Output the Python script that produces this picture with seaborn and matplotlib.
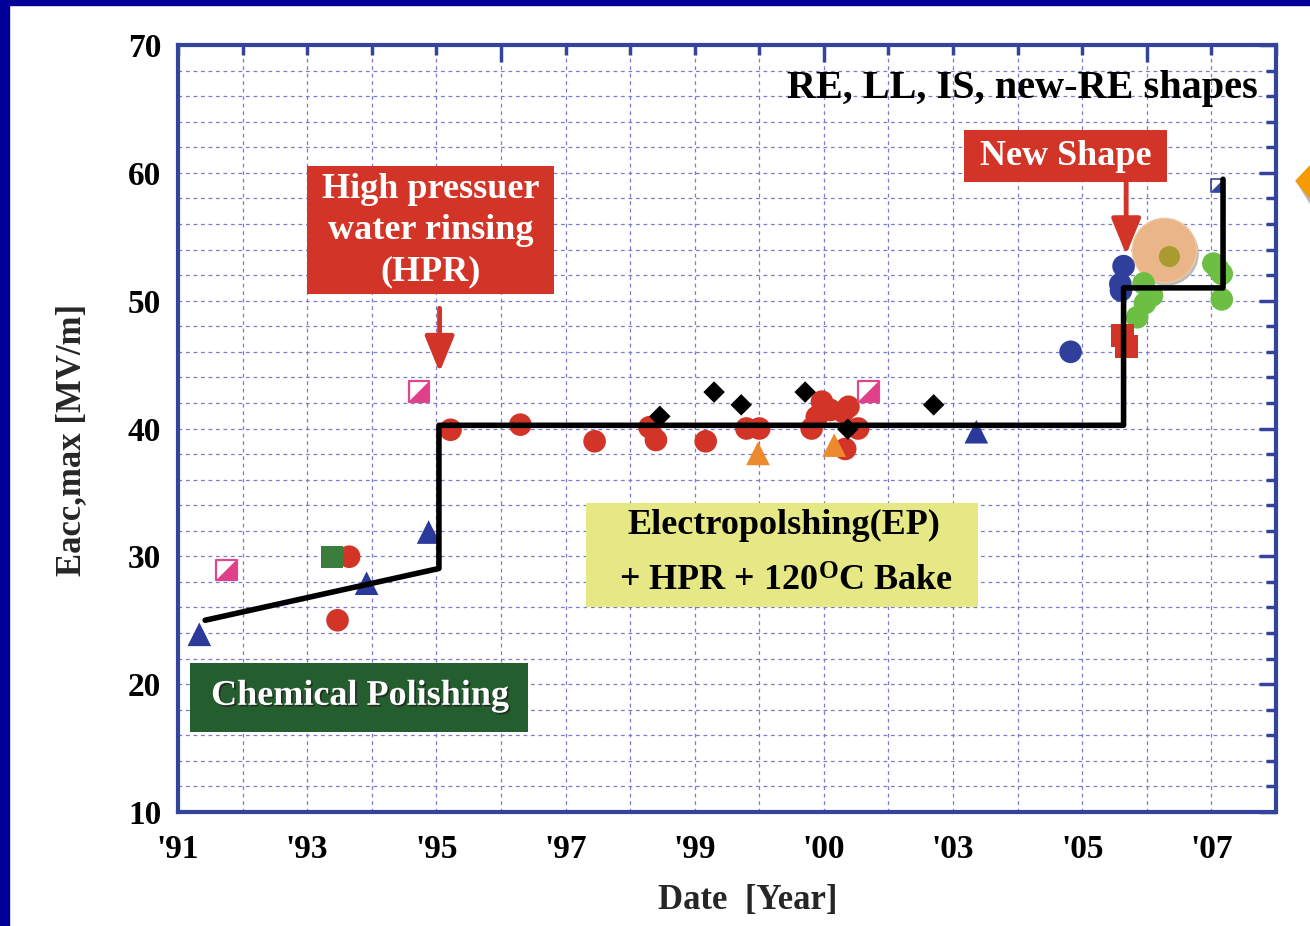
import numpy as np
import pandas as pd
import matplotlib
matplotlib.use("Agg")
import matplotlib.pyplot as plt
import matplotlib.patheffects as pe
import seaborn as sns
from matplotlib.patches import Rectangle, Polygon
from matplotlib.transforms import offset_copy
from matplotlib.ticker import MultipleLocator

# ---------------- data ----------------
tick_years = list(range(1991, 2009))
tick_labels = ["'91", "", "'93", "", "'95", "", "'97", "", "'99", "", "'00", "",
               "'03", "", "'05", "", "'07", ""]

red_circ_x = [1993.47, 1993.65, 1995.22, 1996.30, 1997.45, 1998.30, 1998.40, 1999.17,
              1999.80, 2000.00, 2000.81, 2000.89, 2000.97, 2001.10, 2001.30, 2001.38,
              2001.53, 2001.33]
red_circ_y = [25.0, 29.97, 39.9, 40.3, 39.0, 40.1, 39.1, 39.0,
              40.0, 40.0, 40.0, 40.9, 42.1, 41.45, 41.3, 41.7,
              40.0, 38.4]

diam_x = [1998.46, 1999.30, 1999.72, 2000.71, 2001.37, 2002.70]
diam_y = [40.95, 42.85, 41.85, 42.85, 39.95, 41.85]

orange_tri_x = [1999.98, 2001.16]
orange_tri_y = [38.05, 38.7]

blue_tri_x = [1991.33, 1993.92, 1994.88, 2003.36]
blue_tri_y = [23.9, 27.9, 31.9, 39.75]

pink_sq_x = [1991.75, 1994.73, 2001.69]
pink_sq_y = [28.94, 42.9, 42.9]

blue_sq_x = [2007.09]
blue_sq_y = [59.0]

green_sq_x = [1993.39]
green_sq_y = [29.95]

red_sq_x = [2005.62, 2005.68]
red_sq_y = [47.3, 46.4]

blue_circ_x = [2004.82, 2005.64, 2005.59, 2005.60]
blue_circ_y = [46.0, 52.7, 51.3, 50.8]

green_circ_x = [2005.85, 2005.97, 2005.95, 2006.08, 2007.03, 2007.16, 2007.10, 2007.16]
green_circ_y = [48.7, 49.8, 51.35, 50.4, 52.9, 52.1, 52.5, 50.1]

hl_x = [2006.26]
hl_y = [54.0]
olive_x = [2006.35]
olive_y = [53.45]

step_x = [1991.42, 1995.04, 1995.04, 2005.64, 2005.64, 2007.18, 2007.18]
step_y = [25.0, 29.05, 40.25, 40.25, 51.0, 51.0, 59.5]

# ---------------- style ----------------
sns.set_style("white")
plt.rcParams["font.family"] = ["Liberation Serif", "DejaVu Serif"]
plt.rcParams["font.weight"] = "bold"
plt.rcParams["mathtext.fontset"] = "custom"
plt.rcParams["mathtext.rm"] = "Liberation Serif:bold"
plt.rcParams["mathtext.bf"] = "Liberation Serif:bold"
plt.rcParams["mathtext.it"] = "Liberation Serif:bold"

SPINE = "#34449C"
GRID = "#7A7AD0"
RED = "#D23527"

fig = plt.figure(figsize=(13.10, 9.26), dpi=100)
fig.patch.set_facecolor("white")
ax = fig.add_axes([178 / 1310, 1 - 812 / 926, 1098 / 1310, 767 / 926])
ax.set_facecolor("white")

# frame of the slide
fig.add_artist(Rectangle((0, 0), 9 / 1310, 1, transform=fig.transFigure, color="#000099", zorder=0))
fig.add_artist(Rectangle((0, 1 - 5 / 926), 1, 5 / 926, transform=fig.transFigure, color="#000099", zorder=0))
def fpt(x, y):
    return (x / 1310, 1 - y / 926)
fig.add_artist(Polygon([fpt(1299, 185), fpt(1310, 171), fpt(1310, 203)], closed=True,
                       transform=fig.transFigure, color="#BBBBBB", zorder=0))
fig.add_artist(Polygon([fpt(1296, 181), fpt(1310, 166), fpt(1310, 198)], closed=True,
                       transform=fig.transFigure, color="#F59A00", zorder=1))

ax.set_xlim(1991, 2008)
ax.set_ylim(10, 70)

# grid
ax.set_xticks(tick_years)
ax.set_xticklabels(tick_labels)
ax.set_yticks([10, 20, 30, 40, 50, 60, 70])
ax.yaxis.set_minor_locator(MultipleLocator(2))
ax.grid(True, which="both", color=GRID, lw=0.9, ls=(0, (3, 3)), zorder=0)
ax.set_axisbelow(True)

for s in ax.spines.values():
    s.set_color(SPINE)
    s.set_linewidth(3)

ax.tick_params(axis="both", which="both", direction="in", colors=SPINE, width=2.5,
               top=True, right=True, labelcolor="black")
ax.tick_params(axis="y", which="major", length=12, pad=12, labelsize=24)
ax.tick_params(axis="y", which="minor", length=7)
ax.tick_params(axis="x", which="major", length=7, pad=16, labelsize=24)
for yr, t in zip(tick_years, ax.xaxis.get_major_ticks()):
    if yr in (1996, 2001, 2006):
        t.tick1line.set_markersize(12)
        t.tick2line.set_markersize(12)
for lab in ax.get_xticklabels() + ax.get_yticklabels():
    lab.set_fontweight("bold")

# text boxes (behind markers)
def box(x0, x1, y0, y1, color, z=1):
    ax.add_patch(Rectangle((x0, y0), x1 - x0, y1 - y0, facecolor=color, edgecolor="none", zorder=z))

box(1993.00, 1996.82, 50.53, 60.55, RED)
ax.text(1994.91, 55.45, "High pressuer\nwater rinsing\n(HPR)", color="white", fontsize=26,
        fontweight="bold", ha="center", va="center", linespacing=1.32, zorder=2)

box(2003.17, 2006.32, 59.30, 63.36, RED)
ax.text(2004.74, 61.3, "New Shape", color="white", fontsize=26, fontweight="bold",
        ha="center", va="center", zorder=2)

box(1997.32, 2003.39, 26.04, 34.18, "#E5E884")
ax.text(2000.38, 32.4, "Electropolshing(EP)", color="black", fontsize=26, fontweight="bold",
        ha="center", va="center", zorder=2)
ax.text(2000.42, 28.0, r"+ HPR + 120$^{\mathrm{O}}$C Bake", color="black", fontsize=26,
        fontweight="bold", ha="center", va="center", zorder=2)

box(1991.185, 1996.42, 16.26, 21.66, "#245E2E")
ax.text(1993.82, 19.05, "Chemical Polishing", color="white", fontsize=26, fontweight="bold",
        ha="center", va="center", zorder=2,
        path_effects=[pe.withSimplePatchShadow(offset=(1.2, -1.2), shadow_rgbFace="#222222", alpha=0.8)])

ax.text(2007.72, 66.6, "RE, LL, IS, new-RE shapes", color="black", fontsize=29,
        fontweight="bold", ha="right", va="center", zorder=2)

# arrows
ax.annotate("", xy=(1995.05, 44.4), xytext=(1995.05, 49.4),
            arrowprops=dict(arrowstyle="-|>,head_length=1.1,head_width=0.45", color=RED, lw=3.5,
                            shrinkA=0, shrinkB=0, mutation_scale=20), zorder=3)
ax.annotate("", xy=(2005.68, 53.6), xytext=(2005.68, 59.3),
            arrowprops=dict(arrowstyle="-|>,head_length=1.1,head_width=0.45", color=RED, lw=3.5,
                            shrinkA=0, shrinkB=0, mutation_scale=20), zorder=3)

# highlighted circle with shadow
sns.scatterplot(x=hl_x, y=hl_y, ax=ax, s=2150, color="#BBBBBB", edgecolor="none", zorder=3,
                legend=False, transform=offset_copy(ax.transData, fig=fig, x=3, y=-4, units="dots"))
sns.scatterplot(x=hl_x, y=hl_y, ax=ax, s=2150, color="#E9B589", edgecolor="#F0C8A0", linewidth=1,
                zorder=3, legend=False)

# step line
sns.lineplot(x=step_x, y=step_y, ax=ax, sort=False, estimator=None, color="black", lw=4,
             zorder=5, legend=False)

# markers
CS = 265
sns.scatterplot(x=red_circ_x, y=red_circ_y, ax=ax, s=CS, marker="o", color=RED,
                edgecolor="none", zorder=4, legend=False)
sns.scatterplot(x=blue_circ_x, y=blue_circ_y, ax=ax, s=CS, marker="o", color="#2F3F9B",
                edgecolor="none", zorder=4, legend=False)
sns.scatterplot(x=green_circ_x, y=green_circ_y, ax=ax, s=CS, marker="o", color="#6CBF42",
                edgecolor="none", zorder=4, legend=False)
sns.scatterplot(x=olive_x, y=olive_y, ax=ax, s=230, marker="o", color="#A89B30",
                edgecolor="none", zorder=4, legend=False)
sns.scatterplot(x=red_sq_x, y=red_sq_y, ax=ax, s=280, marker="s", color=RED,
                edgecolor="none", zorder=4, legend=False)
sns.scatterplot(x=green_sq_x, y=green_sq_y, ax=ax, s=250, marker="s", color="#3A7D3C",
                edgecolor="none", zorder=4, legend=False)
sns.scatterplot(x=diam_x, y=diam_y, ax=ax, s=120, marker="D", color="black",
                edgecolor="none", zorder=6, legend=False)
sns.scatterplot(x=blue_tri_x, y=blue_tri_y, ax=ax, s=290, marker="^", color="#2B3A9A",
                edgecolor="none", zorder=4, legend=False)
sns.scatterplot(x=orange_tri_x, y=orange_tri_y, ax=ax, s=290, marker="^", color="#EE8A2E",
                edgecolor="none", zorder=4, legend=False)

half_tri = [(1, 1), (1, -1), (-1, -1), (1, 1)]
sns.scatterplot(x=pink_sq_x, y=pink_sq_y, ax=ax, s=220, marker="s", facecolor="none",
                edgecolor="#E0468A", linewidth=1.6, zorder=4, legend=False)
sns.scatterplot(x=pink_sq_x, y=pink_sq_y, ax=ax, s=220, marker=half_tri, color="#E0408A",
                edgecolor="none", zorder=4, legend=False)
sns.scatterplot(x=blue_sq_x, y=blue_sq_y, ax=ax, s=80, marker="s", facecolor="none",
                edgecolor="#3345A0", linewidth=1.2, zorder=4, legend=False)
sns.scatterplot(x=blue_sq_x, y=blue_sq_y, ax=ax, s=80, marker=half_tri, color="#3345A0",
                edgecolor="none", zorder=4, legend=False)

ax.set_xlim(1991, 2008)
ax.set_ylim(10, 70)

ax.set_xlabel("Date  [Year]", fontsize=25, fontweight="bold", va="center")
ax.xaxis.set_label_coords((748 - 178) / 1098, (812 - 900) / 767)
ax.set_ylabel("Eacc,max [MV/m]", fontsize=25, fontweight="bold", va="center")
ax.yaxis.set_label_coords((72 - 178) / 1098, (812 - 440) / 767)

fig.savefig("out.png", dpi=100, facecolor="white")
